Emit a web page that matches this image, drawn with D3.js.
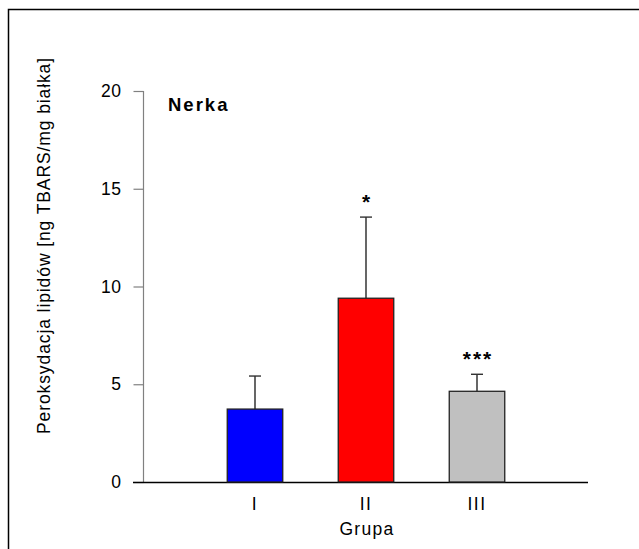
<!DOCTYPE html>
<html>
<head>
<meta charset="utf-8">
<script src="https://cdn.jsdelivr.net/npm/d3@7"></script>
<style>
  body { margin: 0; background: #fff; }
  text { font-family: "Liberation Sans", Arial, sans-serif; }
</style>
</head>
<body>
<svg id="chart" width="639" height="549"></svg>
<script>
// data
const groups = ["I", "II", "III"];
const means = [3.73, 9.4, 4.64];
const sds = [1.69, 4.15, 0.87];
const marks = ["", "*", "***"];
const colors = ["#0000ff", "#ff0000", "#c0c0c0"];
const yTicks = [0, 5, 10, 15, 20];

const svg = d3.select("#chart");

// outer frame (runs off the right and bottom edge)
svg.append("rect")
  .attr("x", 8.5).attr("y", 9.5)
  .attr("width", 700).attr("height", 600)
  .attr("fill", "none")
  .attr("stroke", "#000")
  .attr("stroke-width", 1.5);

const x = d3.scaleLinear().domain([0, 4]).range([144, 588]);
const y = d3.scaleLinear().domain([0, 20]).range([482, 91]);
const barW = 55.5;

// y axis: grey line, ticks outward to the left
const yAxis = d3.axisLeft(y).tickValues(yTicks).tickSize(10).tickPadding(12);
const gy = svg.append("g").attr("transform", "translate(143.5,0)").call(yAxis);
gy.select(".domain").attr("stroke", "#808080").attr("stroke-width", 1.2).attr("d", `M0,${y(20)}V${y(0)}`);
gy.selectAll(".tick line").attr("stroke", "#808080").attr("stroke-width", 1.2);
gy.selectAll(".tick text")
  .attr("fill", "#000")
  .style("font-size", "17.5px")
  .style("letter-spacing", "0.5px")
  .style("font-family", "'Liberation Sans', Arial, sans-serif");

// baseline
svg.append("line")
  .attr("x1", 133).attr("x2", 588)
  .attr("y1", y(0) + 0.5).attr("y2", y(0) + 0.5)
  .attr("stroke", "#000").attr("stroke-width", 1.3);

const data = groups.map((g, i) => ({ g, i, m: means[i], sd: sds[i], mark: marks[i], c: colors[i] }));

// error bars (drawn first so the bar covers the lower part)
const err = svg.selectAll(".err").data(data).join("g").attr("class", "err");
err.append("line")
  .attr("x1", (d) => x(d.i + 1)).attr("x2", (d) => x(d.i + 1))
  .attr("y1", (d) => y(d.m)).attr("y2", (d) => y(d.m + d.sd))
  .attr("stroke", "#000").attr("stroke-width", 1.2);
err.append("line")
  .attr("x1", (d) => x(d.i + 1) - 6).attr("x2", (d) => x(d.i + 1) + 6)
  .attr("y1", (d) => y(d.m + d.sd)).attr("y2", (d) => y(d.m + d.sd))
  .attr("stroke", "#333").attr("stroke-width", 1.4);

// bars
svg.selectAll(".bar").data(data).join("rect")
  .attr("class", "bar")
  .attr("x", (d) => x(d.i + 1) - barW / 2)
  .attr("width", barW)
  .attr("y", (d) => y(d.m))
  .attr("height", (d) => y(0) - y(d.m))
  .attr("fill", (d) => d.c)
  .attr("stroke", "#222")
  .attr("stroke-width", 1.3);

// significance marks
svg.selectAll(".mark").data(data).join("text")
  .attr("class", "mark")
  .attr("x", (d) => x(d.i + 1) + 1)
  .attr("y", (d) => y(d.m + d.sd) - 8)
  .attr("text-anchor", "middle")
  .style("font-size", "21px")
  .style("font-weight", "bold")
  .style("letter-spacing", "2px")
  .text((d) => d.mark);

// x labels
svg.selectAll(".xlab").data(data).join("text")
  .attr("class", "xlab")
  .attr("x", (d) => x(d.i + 1))
  .attr("y", 510)
  .attr("text-anchor", "middle")
  .style("font-size", "17.5px")
  .style("letter-spacing", "1.5px")
  .text((d) => d.g);

svg.append("text")
  .attr("x", 367).attr("y", 535)
  .attr("text-anchor", "middle")
  .style("font-size", "17.5px")
  .style("letter-spacing", "1.3px")
  .text("Grupa");

// y label
svg.append("text")
  .attr("transform", "translate(50,245.5) rotate(-90)")
  .attr("text-anchor", "middle")
  .style("font-size", "17.5px")
  .style("letter-spacing", "0.9px")
  .text("Peroksydacja lipidów [ng TBARS/mg białka]");

// panel title
svg.append("text")
  .attr("x", 168).attr("y", 110.5)
  .style("font-size", "18.5px")
  .style("font-weight", "bold")
  .style("letter-spacing", "2px")
  .text("Nerka");
</script>
</body>
</html>
